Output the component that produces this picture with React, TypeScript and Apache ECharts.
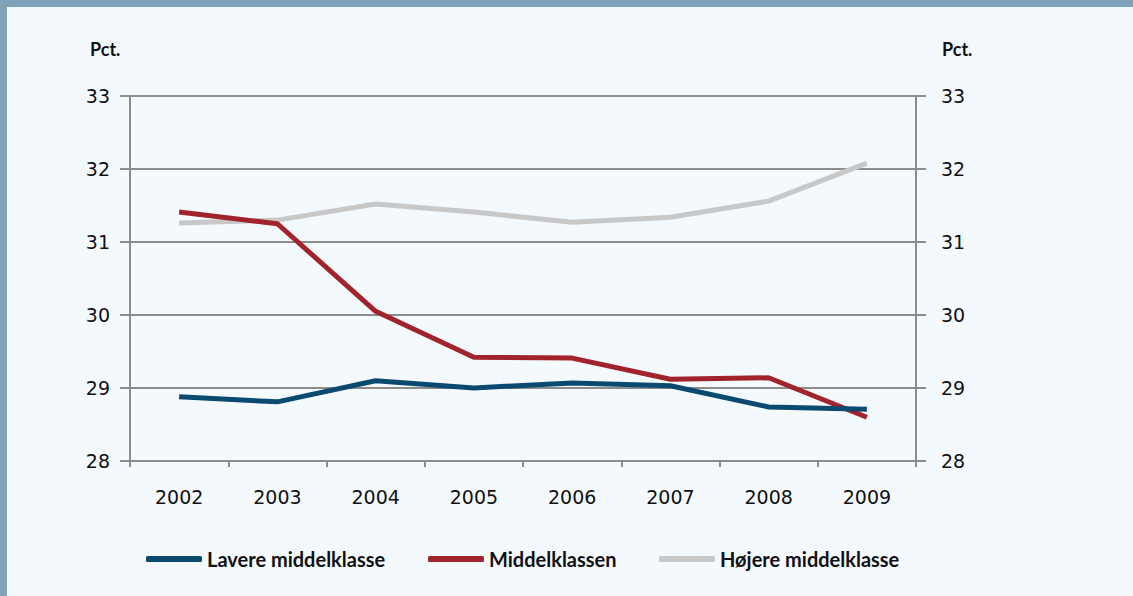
import React, { useEffect, useRef } from "react";
import * as echarts from "echarts";

const years = ["2002", "2003", "2004", "2005", "2006", "2007", "2008", "2009"];
const lavere = [28.88, 28.81, 29.1, 29.0, 29.07, 29.03, 28.74, 28.71];
const middel = [31.41, 31.25, 30.05, 29.42, 29.41, 29.12, 29.14, 28.6];
const hojere = [31.26, 31.3, 31.52, 31.41, 31.27, 31.34, 31.56, 32.08];
const seriesNames = ["Lavere middelklasse", "Middelklassen", "Højere middelklasse"];
const seriesColors = ["#0B4A70", "#A1232B", "#C8C8C8"];
const yUnit = "Pct.";

export default function App() {
  const ref = useRef<HTMLDivElement>(null);
  useEffect(() => {
    const chart = echarts.init(ref.current!, null, { renderer: "svg" });
    const axisGrey = "#8C8C8C";
    const labelFont = { color: "#111", fontSize: 19, fontFamily: "DejaVu Sans" };
    const dataSets = [lavere, middel, hojere];
    const legendLefts = [146, 428, 659];
    chart.setOption({
      animation: false,
      backgroundColor: "#F4F9FE",
      grid: { left: 130, right: 217, top: 96, bottom: 135 },
      xAxis: {
        type: "category",
        data: years,
        boundaryGap: true,
        axisLine: { lineStyle: { color: axisGrey, width: 2 } },
        axisTick: { show: true, length: 6, lineStyle: { color: axisGrey, width: 2 } },
        axisLabel: { ...labelFont, margin: 26 },
      },
      yAxis: [
        {
          type: "value",
          min: 28,
          max: 33,
          interval: 1,
          position: "left",
          axisLine: { show: true, lineStyle: { color: axisGrey, width: 2 } },
          axisTick: { show: true, length: 10, lineStyle: { color: axisGrey, width: 2 } },
          splitLine: { show: true, lineStyle: { color: axisGrey, width: 2 } },
          axisLabel: { ...labelFont, margin: 20 },
        },
        {
          type: "value",
          min: 28,
          max: 33,
          interval: 1,
          position: "right",
          axisLine: { show: true, lineStyle: { color: axisGrey, width: 2 } },
          axisTick: { show: true, length: 10, lineStyle: { color: axisGrey, width: 2 } },
          splitLine: { show: false },
          axisLabel: { ...labelFont, margin: 25 },
        },
      ],
      legend: seriesNames.map((n, i) => ({
        data: [n],
        left: legendLefts[i],
        top: 549,
        padding: 0,
        icon: "roundRect",
        itemWidth: 56,
        itemHeight: 6,
        textStyle: { fontFamily: "Lato", fontWeight: "bold", fontSize: 20, color: "#111" },
      })),
      graphic: [
        { type: "rect", shape: { x: 0, y: 0, width: 1133, height: 7 }, style: { fill: "#7FA3B9" } },
        { type: "rect", shape: { x: 0, y: 0, width: 7, height: 596 }, style: { fill: "#7FA3B9" } },
        { type: "text", x: 90, y: 40, style: { text: yUnit, fontFamily: "Lato", fontWeight: "bold", fontSize: 18, fill: "#111" } },
        { type: "text", x: 942, y: 40, style: { text: yUnit, fontFamily: "Lato", fontWeight: "bold", fontSize: 18, fill: "#111" } },
      ],
      series: seriesNames.map((n, i) => ({
        name: n,
        type: "line",
        data: dataSets[i],
        symbol: "none",
        color: seriesColors[i],
        lineStyle: { width: 5, color: seriesColors[i] },
        z: i === 2 ? 1 : 3 - i + 1,
      })),
    });
    return () => chart.dispose();
  }, []);
  return (
    <div style={{ position: "fixed", left: 0, top: 0, width: 1133, height: 596 }}>
      <div ref={ref} style={{ width: 1133, height: 596 }} />
    </div>
  );
}
